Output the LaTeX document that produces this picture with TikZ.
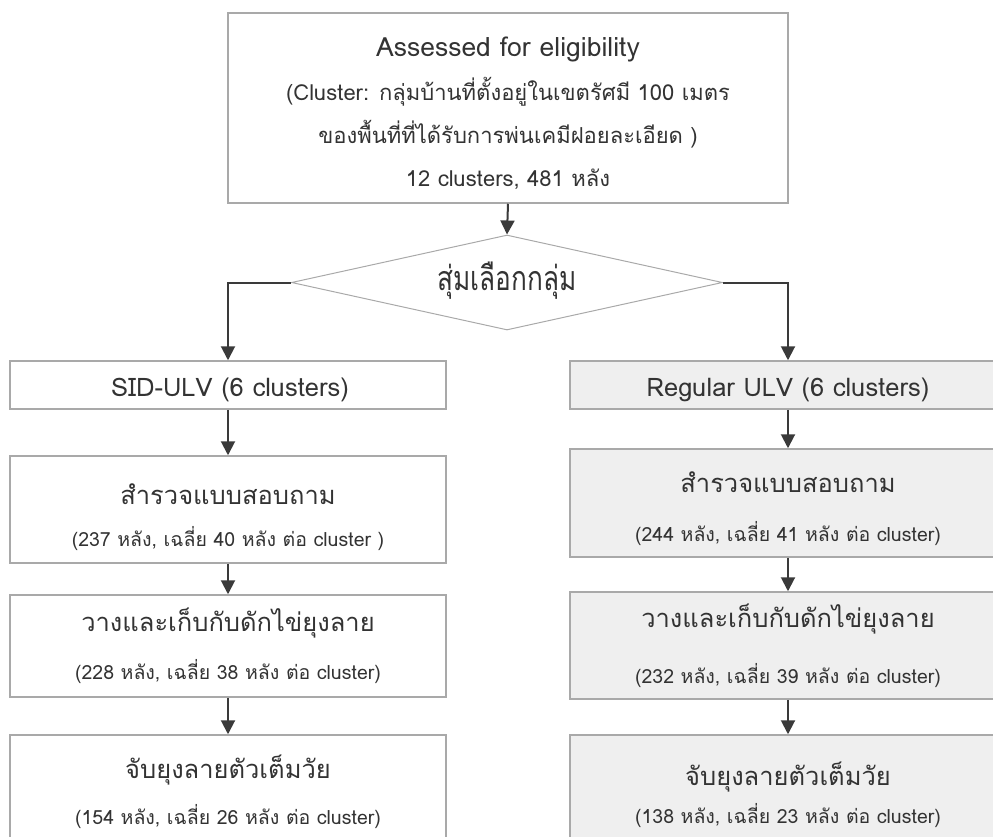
\documentclass[tikz,border=0pt]{standalone}
\usepackage{fontspec}
\setmainfont[Script=Thai]{Loma}
\usetikzlibrary{arrows.meta,shapes.geometric}
\definecolor{boxgray}{HTML}{A9A9A9}
\definecolor{arrgray}{HTML}{3A3A3A}
\definecolor{fillgray}{HTML}{EFEFEF}
\definecolor{txtgray}{HTML}{333333}
\begin{document}
\begin{tikzpicture}[x=1pt,y=-1pt,
  box/.style={draw=boxgray, line width=1.5pt, minimum width=436pt, inner sep=0pt, rectangle},
  greybox/.style={box, fill=fillgray},
  arr/.style={draw=arrgray, line width=2pt, -{Triangle[width=14pt,length=14pt]}},
  lat/.style={font=\fontsize{25.5}{28}\selectfont, text=txtgray, anchor=base, inner sep=0pt},
  big/.style={font=\fontsize{25.5}{28}\selectfont, text=txtgray, anchor=base, inner sep=0pt},
  mid/.style={font=\fontsize{22}{25}\selectfont, text=txtgray, anchor=base, inner sep=0pt},
  small/.style={font=\fontsize{19.5}{22}\selectfont, text=txtgray, anchor=base, inner sep=0pt}]
\clip (0,0) rectangle (993,836);
\useasboundingbox (0,0) rectangle (993,836);
% top box
\node[box, minimum width=560pt, minimum height=190pt] (top) at (508,108) {};
\node[lat, font=\fontsize{26.5}{29}\selectfont] (t1) at (508,56) {Assessed for eligibility};
\node[mid] (t2) at (508,100) {(Cluster: กลุ่มบ้านที่ตั้งอยู่ในเขตรัศมี 100 เมตร};
\node[mid] (t3) at (508,143) {ของพื้นที่ที่ได้รับการพ่นเคมีฝอยละเอียด )};
\node[mid] (t4) at (508,186) {12 clusters, 481 หลัง};
% diamond
\node[diamond, draw=boxgray, line width=1pt, minimum width=431pt, minimum height=95pt, inner sep=0pt] (dia) at (507,282.5) {};
\node[anchor=center, inner sep=0pt, text=txtgray, font=\fontsize{34}{36}\selectfont] (diat) at (507,281) {\scalebox{0.77}[1]{สุ่มเลือกกลุ่ม}};
% left column
\node[box, minimum height=48pt] (sid) at (228,385) {};
\node[lat] (sidt) at (230,396) {SID-ULV (6 clusters)};
\node[box, minimum height=107pt] (s1) at (228,509.5) {};
\node[big] (s1a) at (228,504) {สำรวจแบบสอบถาม};
\node[small] (s1b) at (228,546) {(237 หลัง, เฉลี่ย 40 หลัง ต่อ cluster )};
\node[box, minimum height=102pt] (s2) at (228,646) {};
\node[big] (s2a) at (228,631) {วางและเก็บกับดักไข่ยุงลาย};
\node[small] (s2b) at (228,679) {(228 หลัง, เฉลี่ย 38 หลัง ต่อ cluster)};
\node[box, minimum height=160pt] (s3) at (228,815) {};
\node[big] (s3a) at (228,778) {จับยุงลายตัวเต็มวัย};
\node[small] (s3b) at (228,824) {(154 หลัง, เฉลี่ย 26 หลัง ต่อ cluster)};
% right column
\node[greybox, minimum height=48pt] (reg) at (788,385) {};
\node[lat] (regt) at (788,396) {Regular ULV (6 clusters)};
\node[greybox, minimum height=108pt] (r1) at (788,503) {};
\node[big] (r1a) at (788,492) {สำรวจแบบสอบถาม};
\node[small] (r1b) at (788,541) {(244 หลัง, เฉลี่ย 41 หลัง ต่อ cluster)};
\node[greybox, minimum height=107pt] (r2) at (788,645.5) {};
\node[big] (r2a) at (788,627) {วางและเก็บกับดักไข่ยุงลาย};
\node[small] (r2b) at (788,683) {(232 หลัง, เฉลี่ย 39 หลัง ต่อ cluster)};
\node[greybox, minimum height=160pt] (r3) at (788,815) {};
\node[big] (r3a) at (788,785) {จับยุงลายตัวเต็มวัย};
\node[small] (r3b) at (788,823) {(138 หลัง, เฉลี่ย 23 หลัง ต่อ cluster)};
% connectors
\draw[arr] (top.south) -- (dia.north);
\draw[arr] (dia.west) -| (sid.north);
\draw[arr] (dia.east) -| (reg.north);
\draw[arr] (sid.south) -- (s1.north);
\draw[arr] (s1.south) -- (s2.north);
\draw[arr] (s2.south) -- (s3.north);
\draw[arr] (reg.south) -- (r1.north);
\draw[arr] (r1.south) -- (r2.north);
\draw[arr] (r2.south) -- (r3.north);
\end{tikzpicture}
\end{document}
